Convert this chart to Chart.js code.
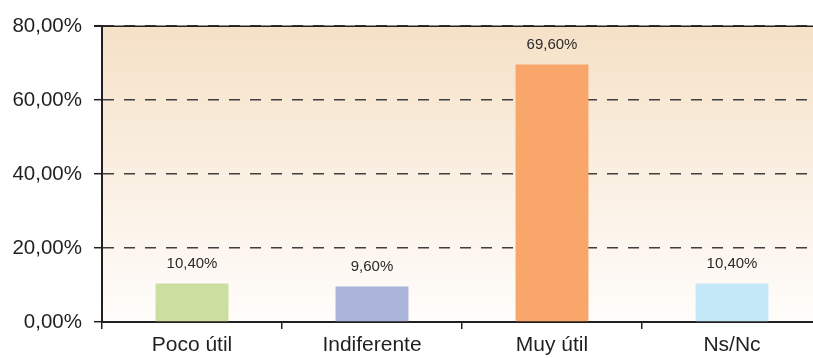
<!DOCTYPE html>
<html>
<head>
<meta charset="utf-8">
<script src="https://cdn.jsdelivr.net/npm/chart.js@4"></script>
<style>
html,body{margin:0;padding:0;background:#fff;overflow:hidden;}
#wrap{width:822px;height:358px;position:relative;}
</style>
</head>
<body>
<div id="wrap"><canvas id="c"></canvas></div>
<script>
const categories = ["Poco útil", "Indiferente", "Muy útil", "Ns/Nc"];
const values = [10.4, 9.6, 69.6, 10.4];
const barColors = ["#CBE0A0", "#AAB3DA", "#F8A66A", "#C5E8F8"];
const yTicks = [0, 20, 40, 60, 80];

const fmt = v => v.toFixed(2).replace('.', ',') + '%';
const textColor = '#231F20';
const fontFamily = '"Liberation Sans", Arial, sans-serif';

const bgPlugin = {
  id: 'bg',
  beforeDraw(chart) {
    const {ctx, chartArea: a} = chart;
    const g = ctx.createLinearGradient(0, a.top, 0, a.bottom);
    g.addColorStop(0, '#F5E1C7');
    g.addColorStop(1, '#FFFDFB');
    ctx.save();
    ctx.fillStyle = g;
    ctx.fillRect(a.left, a.top, a.right - a.left, a.bottom - a.top);
    ctx.restore();
  },
  afterDraw(chart) {
    const {ctx, chartArea: a} = chart;
    const y = chart.scales.y.getPixelForValue(80);
    ctx.save();
    ctx.strokeStyle = '#231F20';
    ctx.lineWidth = 1.5;
    ctx.beginPath();
    ctx.moveTo(a.left - 8, Math.round(y) + 0.25);
    ctx.lineTo(a.right, Math.round(y) + 0.25);
    ctx.stroke();
    ctx.restore();
  },
  afterDatasetsDraw(chart) {
    const {ctx} = chart;
    const meta = chart.getDatasetMeta(0);
    ctx.save();
    ctx.fillStyle = '#2a2a2a';
    ctx.font = '15px ' + fontFamily;
    ctx.textAlign = 'center';
    ctx.textBaseline = 'middle';
    meta.data.forEach((bar, i) => {
      ctx.fillText(fmt(values[i]), bar.x, bar.y - 20);
    });
    ctx.restore();
  }
};

new Chart(document.getElementById('c'), {
  type: 'bar',
  data: {
    labels: categories,
    datasets: [{
      data: values,
      backgroundColor: barColors,
      borderWidth: 0,
      barPercentage: 0.405,
      categoryPercentage: 1.0
    }]
  },
  options: {
    responsive: true,
    maintainAspectRatio: false,
    animation: false,
    events: [],
    layout: { padding: { top: 26, right: 0, left: 0, bottom: 0 } },
    plugins: { legend: { display: false }, tooltip: { enabled: false } },
    scales: {
      y: {
        min: 0, max: 80,
        afterBuildTicks(scale) { scale.ticks = yTicks.map(v => ({value: v})); },
        afterFit(scale) { scale.width = 102; },
        ticks: {
          color: textColor,
          font: { family: fontFamily, size: 20.5 },
          padding: 12,
          callback: v => fmt(v)
        },
        grid: {
          color: '#3f3f3f',
          lineWidth: 1.4,
          tickLength: 8,
          tickColor: '#231F20',
          tickWidth: 1.5,
          drawTicks: true
        },
        border: { display: true, color: '#231F20', width: 2, dash: [11, 10] }
      },
      x: {
        offset: true,
        afterFit(scale) { scale.height = 36; },
        ticks: {
          color: textColor,
          font: { family: fontFamily, size: 21 },
          padding: 4
        },
        grid: {
          offset: true,
          drawOnChartArea: false,
          tickLength: 7,
          color: '#231F20',
          lineWidth: 1.5
        },
        border: { display: true, color: '#231F20', width: 2 }
      }
    }
  },
  plugins: [bgPlugin]
});
</script>
</body>
</html>
